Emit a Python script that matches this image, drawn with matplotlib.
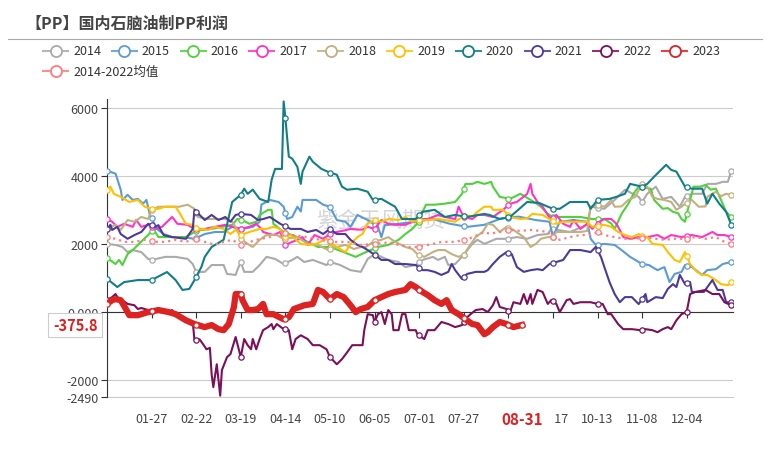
import numpy as np
import matplotlib.pyplot as plt
from matplotlib.lines import Line2D

plt.rcParams['font.family'] = ['Noto Sans CJK SC', 'DejaVu Sans']

W, H = 772, 460

TITLE = "【PP】国内石脑油制PP利润"
WATERMARK = "紫金天风期货"

# x axis is day of year (0 = 01-01)
TICK_DAYS = [26, 52, 78, 104, 130, 156, 182, 208, 234, 260, 286, 312, 338]
TICK_LABELS = ['01-27', '02-22', '03-19', '04-14', '05-10', '06-05', '07-01',
               '07-27', '08-22', '09-17', '10-13', '11-08', '12-04']
NOW_LABEL = '08-31'
Y_TICKS = [6000, 4000, 2000, 0, -2000, -2490]
Y_LABELS = ['6000', '4000', '2000', '0.000', '-2000', '-2490']

SERIES = ['2014', '2015', '2016', '2017', '2018', '2019', '2020', '2021',
          '2022', '2023', '2014-2022均值']
COLORS = ['#aaaaaa', '#5b9bd5', '#4fd13a', '#ff33c4', '#c2b07e', '#ffc000',
          '#117e87', '#4b3a9a', '#7b0f5a', '#dd2222', '#ff7b7b']

s2014 = [(0, 2000), (5, 1970), (9, 1910), (12, 1760), (15, 1820), (20, 1760), (24, 1560), (26, 1530),
         (34, 1620), (40, 1620), (47, 1560), (50, 1410), (52, 1180), (57, 1180), (61, 1380), (68, 1380),
         (70, 1120), (75, 1090), (76, 1230), (78, 1470), (80, 1180), (85, 1180), (89, 1380), (93, 1620),
         (98, 1560), (103, 1410), (108, 1530), (111, 1620), (115, 1470), (120, 1530), (128, 1380),
         (130, 1470), (136, 1380), (142, 1230), (148, 1180), (152, 1560), (156, 1700), (160, 1620),
         (164, 1530), (170, 1470), (174, 1320), (180, 1380), (184, 1530), (190, 1620), (193, 1530),
         (197, 1620), (199, 1380), (203, 1410), (207, 1620), (213, 2000), (216, 2120), (220, 2000),
         (227, 2150), (233, 2150), (239, 2200), (245, 2150), (251, 2260), (257, 2290), (259, 2440),
         (270, 2350), (280, 2560), (282, 3090), (290, 3030), (296, 3290), (302, 3590), (310, 3380),
         (312, 3230), (315, 3470), (320, 3680), (324, 3320), (329, 3380), (334, 3090), (337, 3380),
         (341, 3470), (347, 3470), (350, 3760), (355, 3760), (359, 3820), (362, 3820), (364, 4150)]

s2015 = [(0, 4150), (5, 4060), (8, 3590), (9, 3290), (12, 3440), (15, 3290), (18, 3320), (21, 3180),
         (23, 3290), (25, 2850), (27, 2650), (29, 2440), (33, 2290), (38, 2200), (44, 2200), (51, 2150),
         (57, 2290), (63, 2350), (68, 2350), (73, 2500), (79, 2440), (85, 2500), (89, 2650), (90, 3150),
         (95, 3290), (100, 3230), (103, 3090), (105, 2730), (108, 2790), (111, 3090), (113, 2950),
         (114, 3290), (122, 3290), (126, 3150), (130, 3090), (134, 2700), (139, 2650), (142, 2500),
         (146, 2850), (152, 2700), (158, 2500), (160, 2200), (162, 2550), (170, 2590), (180, 2650),
         (190, 2730), (200, 2590), (210, 2500), (220, 2560), (230, 2750), (240, 2800), (250, 2700),
         (258, 2650), (260, 2200), (264, 2650), (272, 2700), (280, 2650), (282, 2150), (285, 1970),
         (290, 2000), (296, 1970), (300, 1820), (305, 1620), (312, 1410), (316, 1380), (321, 1230),
         (325, 1320), (328, 880), (331, 1120), (335, 1180), (337, 1380), (341, 1320), (347, 1090),
         (350, 1230), (355, 1260), (359, 1410), (364, 1470)]

s2016 = [(0, 1590), (5, 1410), (7, 1530), (9, 1380), (12, 1700), (15, 1820), (18, 1970), (21, 2120),
         (24, 2260), (27, 2440), (30, 2200), (38, 2200), (46, 2200), (51, 2350), (55, 2410), (61, 2440),
         (67, 2500), (73, 2560), (76, 2730), (79, 2700), (83, 2590), (87, 2650), (89, 2850), (94, 3000),
         (96, 3000), (97, 2590), (103, 2350), (111, 2200), (117, 2060), (123, 1910), (130, 1910),
         (138, 1760), (145, 1620), (151, 1760), (158, 1910), (164, 1970), (170, 2120), (174, 2290),
         (178, 2440), (182, 2650), (184, 2940), (186, 3150), (191, 3150), (197, 3180), (203, 3230),
         (207, 3470), (209, 3760), (213, 3760), (216, 3820), (220, 3760), (224, 3820), (225, 3680),
         (229, 3380), (235, 3320), (241, 3470), (247, 3290), (250, 3200), (253, 3090), (257, 2880),
         (260, 2790), (268, 2790), (276, 2790), (283, 2730), (290, 2730), (294, 2600), (296, 2440),
         (300, 2880), (304, 3180), (307, 3470), (310, 3680), (314, 3650), (317, 3620), (319, 3290),
         (324, 3030), (327, 3050), (330, 2940), (333, 2900), (335, 2730), (337, 2650), (340, 3290),
         (342, 3680), (346, 3680), (349, 3730), (352, 3590), (355, 3620), (358, 3290), (361, 2940),
         (364, 2790)]

s2017 = [(0, 2730), (3, 2650), (6, 2500), (10, 2590), (15, 2500), (17, 2700), (20, 2500), (24, 2560),
         (28, 2440), (32, 2500), (38, 2790), (41, 2590), (47, 2560), (51, 2440), (57, 2440), (63, 2500),
         (69, 2560), (73, 2500), (78, 2440), (83, 2500), (87, 2590), (90, 2440), (91, 2350), (97, 2260),
         (101, 2350), (104, 1970), (108, 2060), (111, 2120), (114, 2200), (117, 1970), (121, 2260),
         (126, 2150), (130, 2290), (134, 2350), (139, 2400), (142, 2440), (146, 2420), (149, 2420),
         (152, 2500), (156, 2440), (160, 2700), (164, 2590), (168, 2560), (174, 2560), (178, 2650),
         (181, 2730), (187, 2730), (193, 2850), (197, 2790), (203, 2730), (205, 3090), (208, 2790),
         (213, 2730), (216, 2850), (220, 2850), (225, 2790), (231, 3000), (235, 3180), (239, 3230),
         (245, 3470), (247, 3760), (248, 3470), (251, 3230), (254, 3090), (257, 2850), (259, 2700),
         (262, 2850), (266, 2590), (270, 2500), (272, 2700), (276, 2440), (280, 2590), (283, 2440),
         (287, 2650), (290, 2730), (294, 2730), (297, 2590), (299, 2410), (301, 2200), (305, 2150),
         (310, 2200), (315, 2200), (321, 2260), (325, 2150), (329, 2260), (335, 2200), (341, 2260),
         (347, 2200), (353, 2350), (356, 2260), (360, 2260), (364, 2200)]

s2018 = [(0, 2440), (5, 2560), (8, 2410), (12, 2700), (16, 2650), (20, 2790), (24, 2730), (26, 3000),
         (30, 3090), (42, 3090), (47, 3150), (51, 3030), (53, 2790), (59, 2730), (65, 2730), (69, 2730),
         (73, 2650), (76, 2410), (78, 2150), (82, 2000), (85, 1910), (89, 2120), (93, 2260), (99, 2260),
         (103, 2150), (111, 2200), (117, 2000), (123, 1970), (129, 1820), (134, 1910), (139, 1970),
         (144, 1850), (148, 1910), (151, 1910), (155, 2060), (160, 2120), (164, 2200), (168, 2060),
         (174, 1910), (178, 1850), (181, 1700), (185, 1620), (190, 1760), (193, 1820), (197, 1820),
         (201, 1700), (205, 1620), (208, 1680), (211, 1910), (215, 2200), (219, 2350), (222, 2590),
         (225, 2560), (229, 2350), (233, 2500), (237, 2410), (243, 2200), (247, 1910), (250, 2000),
         (253, 2150), (257, 2200), (260, 2200), (262, 2350), (276, 2350), (280, 2380), (282, 3090),
         (286, 3150), (290, 3090), (294, 3290), (296, 3090), (300, 3100), (304, 3290), (308, 3380),
         (312, 3760), (315, 3680), (318, 3380), (321, 3320), (325, 3290), (329, 3230), (332, 3000),
         (335, 3090), (337, 3180), (341, 3290), (345, 3090), (349, 3100), (350, 3380), (355, 3530),
         (358, 3400), (361, 3470), (364, 3440)]

s2019 = [(0, 3590), (2, 3680), (4, 3470), (8, 3380), (11, 3290), (13, 3230), (18, 3290), (22, 3090),
         (26, 3030), (30, 3030), (34, 3090), (40, 3090), (43, 2850), (46, 2590), (50, 2560), (53, 2410),
         (56, 2440), (59, 2410), (63, 2500), (68, 2440), (72, 2290), (75, 2410), (78, 2260), (83, 2350),
         (89, 2440), (93, 2440), (97, 2500), (101, 2440), (103, 2200), (107, 2260), (113, 2000),
         (118, 1970), (122, 2000), (128, 2150), (132, 1970), (136, 1850), (139, 1760), (142, 2000),
         (145, 2150), (146, 2200), (149, 2290), (152, 2590), (156, 2700), (160, 2650), (164, 2730),
         (170, 2700), (174, 2790), (178, 2650), (181, 2700), (187, 2700), (193, 2730), (197, 2700),
         (203, 2650), (209, 2850), (213, 2800), (216, 2940), (220, 3090), (224, 3090), (225, 3000),
         (231, 3000), (235, 2790), (241, 2730), (245, 2750), (248, 2880), (254, 2850), (259, 2700),
         (262, 2590), (266, 2650), (270, 2650), (280, 2650), (283, 2500), (290, 2560), (294, 2500),
         (298, 2350), (302, 2260), (306, 2200), (310, 2290), (313, 2200), (315, 2200), (318, 2000),
         (324, 1970), (327, 1760), (331, 1530), (334, 1470), (337, 1760), (340, 1410), (344, 1180),
         (347, 1090), (350, 1090), (355, 940), (358, 820), (362, 790), (364, 880)]

s2020 = [(0, 980), (6, 735), (10, 880), (18, 940), (26, 940), (35, 1175), (40, 940), (44, 650),
         (48, 680), (51, 940), (55, 1320), (57, 1620), (61, 1910), (68, 2120), (73, 3230), (78, 3440),
         (80, 3620), (82, 3470), (85, 3590), (89, 3320), (94, 3230), (96, 3880), (98, 4200), (102, 4200),
         (103, 6180), (104, 5700), (106, 4560), (108, 4500), (111, 4260), (113, 3760), (114, 4120),
         (118, 4560), (120, 4410), (125, 4200), (130, 4090), (134, 4030), (137, 3680), (140, 3590),
         (146, 3620), (152, 3530), (155, 3290), (160, 3320), (168, 3090), (172, 2730), (180, 2730),
         (184, 2940), (191, 3000), (197, 2790), (203, 2850), (210, 2790), (220, 2880), (223, 2850),
         (229, 2730), (235, 2790), (245, 3230), (252, 3200), (260, 3030), (264, 3030), (270, 3230),
         (280, 3230), (282, 3030), (286, 3290), (293, 3320), (297, 3380), (302, 3470), (305, 3760),
         (312, 3680), (315, 3760), (319, 3970), (326, 4320), (329, 4170), (332, 4120), (337, 3680),
         (341, 3620), (347, 3620), (350, 3180), (353, 3470), (357, 3180), (361, 2940), (364, 2560)]

s2021 = [(0, 2440), (2, 2560), (3, 2410), (6, 2500), (8, 2290), (12, 2150), (16, 2260), (20, 2350),
         (24, 2590), (28, 2500), (30, 2550), (31, 2440), (33, 2260), (38, 2200), (46, 2150), (50, 2440),
         (51, 3000), (54, 2850), (57, 2700), (61, 2850), (65, 2700), (69, 2790), (72, 2650), (75, 2850),
         (78, 2880), (84, 2850), (88, 2700), (91, 2730), (95, 2790), (101, 2590), (107, 2440),
         (113, 2440), (117, 2350), (122, 2410), (126, 2290), (130, 2440), (134, 2290), (139, 2290),
         (142, 2120), (146, 1970), (149, 1910), (152, 1820), (156, 1680), (160, 1530), (164, 1530),
         (168, 1410), (174, 1410), (180, 1380), (184, 1230), (187, 1230), (191, 1180), (195, 1090),
         (199, 1180), (201, 1410), (203, 1230), (207, 970), (210, 1120), (215, 1180), (220, 1180),
         (222, 1230), (225, 1410), (229, 1620), (233, 1760), (236, 1700), (239, 1320), (243, 1180),
         (247, 1230), (251, 1260), (254, 1230), (258, 1410), (262, 1470), (266, 1530), (270, 1820),
         (276, 1820), (282, 1760), (285, 1910), (288, 1620), (290, 1320), (293, 880), (296, 530),
         (299, 290), (302, 440), (306, 440), (310, 235), (314, 530), (315, 290), (320, 440), (324, 410),
         (327, 680), (330, 820), (332, 735), (334, 1090), (337, 820), (340, 880), (341, 590), (348, 590),
         (353, 940), (356, 650), (359, 650), (361, 290), (364, 290)]

s2022 = [(0, 350), (3, 440), (5, 530), (6, 440), (9, 350), (12, 240), (16, 200), (18, 90), (20, 120),
         (24, 60), (28, 0), (32, 60), (36, 0), (38, 60), (41, -150), (46, -240), (50, -290), (51, -820),
         (54, -800), (56, -940), (58, -1090), (60, -1050), (61, -1820), (62, -2200), (64, -1530),
         (66, -2450), (67, -1700), (70, -1320), (72, -1230), (75, -730), (78, -1320), (80, -790),
         (82, -970), (84, -1090), (85, -790), (87, -1090), (89, -790), (91, -530), (94, -440), (96, -350),
         (97, -500), (99, -350), (103, -500), (106, -530), (108, -1090), (110, -790), (113, -680),
         (117, -790), (120, -970), (124, -970), (128, -1090), (130, -1320), (134, -1530), (137, -1380),
         (140, -1180), (143, -970), (149, -970), (150, -530), (152, -60), (155, -90), (156, -290),
         (158, -60), (160, 0), (162, -350), (164, 60), (166, -60), (167, -530), (170, -530), (172, -60),
         (174, -60), (176, -530), (180, -530), (181, -650), (185, -790), (187, -530), (191, -530),
         (195, -290), (199, -350), (203, -440), (207, -380), (210, -150), (212, -60), (215, 60), (219, 90),
         (222, 0), (225, 200), (227, 440), (229, 150), (233, 90), (235, 0), (237, 290), (241, 240),
         (243, 530), (245, 240), (247, 530), (248, 240), (251, 650), (254, 590), (257, 240), (259, 350),
         (262, 240), (264, 0), (268, 350), (270, 380), (272, 240), (276, 290), (282, 290), (286, 240),
         (289, 240), (292, -60), (294, -60), (298, -350), (301, -500), (306, -500), (311, -530),
         (314, -500), (318, -530), (321, -590), (324, -500), (327, -440), (329, -500), (332, -240),
         (335, -60), (338, 0), (340, 530), (343, 590), (349, 650), (353, 530), (357, 530), (360, 290),
         (364, 200)]

s2023 = [(0, 240), (3, 350), (5, 380), (8, 350), (11, 90), (13, -90), (18, -90), (24, 0), (30, 60),
         (36, 0), (40, -60), (46, -240), (51, -350), (57, -440), (61, -380), (65, -500), (68, -530),
         (71, -350), (74, 150), (75, 530), (78, 530), (79, 350), (82, 60), (85, 60), (88, 90), (91, 240),
         (93, -60), (97, -60), (103, -210), (106, -150), (109, 90), (115, 200), (120, 240), (123, 650),
         (126, 590), (130, 380), (134, 530), (138, 440), (142, 200), (145, 0), (148, 90), (152, 150),
         (156, 350), (160, 440), (164, 530), (168, 590), (174, 650), (177, 820), (180, 735), (184, 590),
         (187, 500), (191, 350), (195, 240), (198, 350), (201, 60), (205, -60), (209, -210), (213, -350),
         (216, -380), (220, -650), (222, -590), (225, -440), (229, -290), (233, -350), (237, -440),
         (242, -375.8)]

s_avg = [(0, 2200), (5, 2150), (10, 2060), (16, 2060), (22, 2120), (28, 2060), (34, 2060), (40, 2120),
         (46, 2060), (51, 2150), (57, 2060), (63, 1970), (68, 2060), (73, 2120), (78, 1970), (80, 2000),
         (87, 2120), (95, 2200), (101, 2350), (108, 2260), (117, 2200), (124, 2120), (132, 2060),
         (140, 2060), (148, 1970), (156, 2000), (162, 2030), (164, 2060), (170, 1970), (176, 1910),
         (181, 1910), (190, 2000), (195, 2060), (203, 2060), (211, 2150), (216, 2260), (220, 2350),
         (223, 2300), (229, 2350), (235, 2410), (241, 2380), (247, 2410), (253, 2380), (257, 2350),
         (260, 2200), (264, 2120), (270, 2200), (276, 2260), (282, 2260), (286, 2350), (290, 2260),
         (296, 2200), (302, 2150), (308, 2150), (314, 2200), (320, 2150), (325, 2120), (331, 2150),
         (337, 2150), (343, 2200), (349, 2150), (355, 2200), (360, 2060), (364, 2000)]

DATA = [s2014, s2015, s2016, s2017, s2018, s2019, s2020, s2021, s2022, s2023, s_avg]


def fx(x):
    return x / W


def fy(y):
    return 1 - y / H


fig = plt.figure(figsize=(W / 100, H / 100), dpi=100)
ax = fig.add_axes([fx(107), fy(398), 626 / W, 298 / H])

for i, (name, color, pts) in enumerate(zip(SERIES, COLORS, DATA)):
    d = np.array([p[0] for p in pts], dtype=float)
    v = np.array([p[1] for p in pts], dtype=float)
    if name == '2023':
        ax.plot(d, v, color=color, lw=4.5, solid_joinstyle='round', zorder=3 + i * 0.1)
    elif name.endswith('均值'):
        ax.plot(d, v, color=color, lw=1.6, ls=(0, (1, 1.8)), zorder=3 + i * 0.1)
    else:
        ax.plot(d, v, color=color, lw=1.5, solid_joinstyle='round', zorder=3 + i * 0.1)
    # hollow symbols every 26 days plus the last point
    md = [t for t in range(0, int(d[-1]) + 1, 26)]
    if md[-1] != d[-1]:
        md.append(d[-1])
    ax.plot(md, np.interp(md, d, v), 'o', ms=3.8, mfc='white', mec=color, mew=0.9,
            zorder=3.05 + i * 0.1)

ax.set_xlim(0, 365)
ax.set_ylim(-2490, 6250)
for side in ['top', 'right']:
    ax.spines[side].set_visible(False)
ax.spines['left'].set_color('#333333')
ax.spines['bottom'].set_position(('data', 0))
ax.spines['bottom'].set_color('#333333')
ax.set_xticks(TICK_DAYS)
ax.tick_params(axis='x', direction='out', length=4, color='#333333', labelbottom=False)
ax.set_yticks(Y_TICKS, Y_LABELS)
ax.tick_params(axis='y', length=4, color='#333333', labelsize=9, labelcolor='#444444', pad=2)
ax.grid(axis='y', color='#cccccc', lw=0.8)
ax.set_axisbelow(True)

sec = ax.secondary_xaxis('bottom')
sec.set_xticks(TICK_DAYS, TICK_LABELS)
sec.tick_params(length=0, labelsize=9, labelcolor='#444444', pad=11)
sec.spines['bottom'].set_color('#cccccc')

# current date / latest value pointers from the 2023 series
last_day, last_val = s2023[-1]
ax.text(last_day, -0.074, NOW_LABEL, transform=ax.get_xaxis_transform(), ha='center',
        va='center', fontsize=11, fontweight='bold', color='#e02020',
        bbox=dict(boxstyle='square,pad=0.7', fc='white', ec='none'), clip_on=False, zorder=10)
ax.text(-0.051, last_val, f'{last_val}', transform=ax.get_yaxis_transform(), ha='center',
        va='center', fontsize=10.5, fontweight='bold', color='#e02020',
        bbox=dict(boxstyle='square,pad=0.3', fc='white', ec='#cccccc', lw=0.8),
        clip_on=False, zorder=10)

ax.text(fx(381), fy(221), WATERMARK, transform=fig.transFigure, fontsize=15.5,
        color='#bbbbbb', alpha=0.6, ha='center', va='center', zorder=1)

fig.text(fx(25), fy(24), TITLE, fontsize=11.5, fontweight='bold', color='#444444', va='center')
fig.add_artist(Line2D([fx(8), fx(762)], [fy(40), fy(40)], color='#aaaaaa', lw=0.8))

for i, (name, color) in enumerate(zip(SERIES, COLORS)):
    if i < 10:
        tx, ty = 73 + 68.8 * i, 51.5
    else:
        tx, ty = 73, 72
    fig.add_artist(Line2D([fx(tx - 30), fx(tx - 5)], [fy(ty), fy(ty)], color=color,
                          lw=1.5, alpha=0.85))
    fig.add_artist(Line2D([fx(tx - 17.5)], [fy(ty)], marker='o', ms=8, mfc='white',
                          mec=color, mew=1.3))
    fig.text(fx(tx), fy(ty), name, fontsize=9, color='#333333', va='center')

fig.savefig('out.png', dpi=100)
